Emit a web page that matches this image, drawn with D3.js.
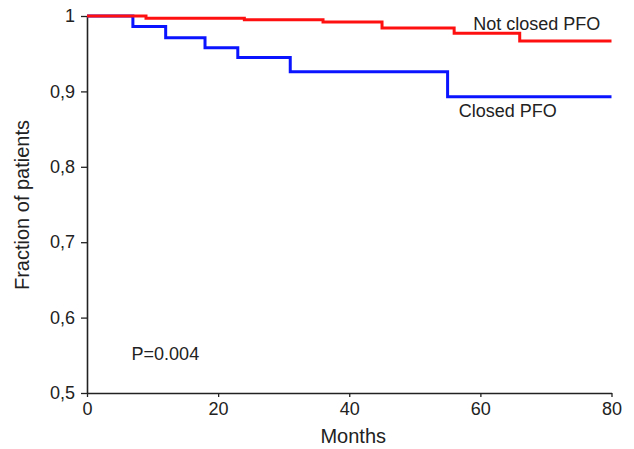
<!DOCTYPE html>
<html>
<head>
<meta charset="utf-8">
<script src="https://cdn.jsdelivr.net/npm/d3@7"></script>
<style>
  html, body { margin: 0; padding: 0; background: #fff; }
  svg { display: block; font-family: "Liberation Sans", Arial, Helvetica, sans-serif; }
</style>
</head>
<body>
<svg id="chart"></svg>
<script>
// Kaplan-Meier steps (months, fraction)
const notClosedMonths = [0, 9, 24, 36, 45, 56, 66, 80];
const notClosedValues = [1, 0.997, 0.995, 0.992, 0.984, 0.977, 0.967, 0.967];
const closedMonths = [0, 7, 12, 18, 23, 31, 55, 80];
const closedValues = [1, 0.986, 0.971, 0.958, 0.945, 0.926, 0.893, 0.893];

const xTicks = [0, 20, 40, 60, 80];
const yTicks = [0.5, 0.6, 0.7, 0.8, 0.9, 1];
const yTickLabels = ['0,5', '0,6', '0,7', '0,8', '0,9', '1'];

// text annotations: [label, month, fraction at baseline]
const labels = [
  ['Not closed PFO', 58.9, 0.982],
  ['Closed PFO', 56.7, 0.866],
  ['P=0.004', 6.8, 0.544]
];

const width = 634;
const height = 449;
const margin = { top: 16, right: 22.5, bottom: 56, left: 87 };

const svg = d3.select('#chart')
  .attr('width', width)
  .attr('height', height);

const x = d3.scaleLinear()
  .domain([0, 80])
  .range([margin.left, width - margin.right]);

const y = d3.scaleLinear()
  .domain([0.5, 1])
  .range([height - margin.bottom, margin.top]);

const xAxis = g => g
  .attr('transform', `translate(0,${height - margin.bottom})`)
  .call(d3.axisBottom(x).tickValues(xTicks).tickSize(4).tickPadding(5.5).tickSizeOuter(0))
  .call(g => g.selectAll('.tick line').attr('stroke', '#222').attr('stroke-width', 1.3))
  .call(g => g.select('.domain').attr('stroke', '#222').attr('stroke-width', 1.6))
  .call(g => g.selectAll('.tick text').attr('fill', '#222').attr('font-size', 18).attr('font-family', null));

const yAxis = g => g
  .attr('transform', `translate(${margin.left},0)`)
  .call(d3.axisLeft(y).tickValues(yTicks).tickFormat((d, i) => yTickLabels[i]).tickSize(6).tickPadding(6).tickSizeOuter(0))
  .call(g => g.selectAll('.tick line').attr('stroke', '#222').attr('stroke-width', 1.3))
  .call(g => g.select('.domain').attr('stroke', '#222').attr('stroke-width', 1.6))
  .call(g => g.selectAll('.tick text').attr('fill', '#222').attr('font-size', 18).attr('font-family', null));

svg.append('g').call(xAxis);
svg.append('g').call(yAxis);

const line = d3.line()
  .x(d => x(d[0]))
  .y(d => y(d[1]))
  .curve(d3.curveStepAfter);

svg.append('path')
  .datum(d3.zip(closedMonths, closedValues))
  .attr('fill', 'none')
  .attr('stroke', '#0a14ff')
  .attr('stroke-width', 3)
  .attr('d', line);

svg.append('path')
  .datum(d3.zip(notClosedMonths, notClosedValues))
  .attr('fill', 'none')
  .attr('stroke', '#ff1010')
  .attr('stroke-width', 3)
  .attr('d', line);

svg.selectAll('.note')
  .data(labels)
  .join('text')
  .attr('class', 'note')
  .attr('x', d => x(d[1]))
  .attr('y', d => y(d[2]))
  .attr('font-size', 18)
  .attr('fill', '#222')
  .text(d => d[0]);

svg.append('text')
  .attr('x', (margin.left + width - margin.right) / 2 + 4)
  .attr('y', 443)
  .attr('text-anchor', 'middle')
  .attr('font-size', 20)
  .attr('fill', '#222')
  .text('Months');

svg.append('text')
  .attr('transform', `translate(29,${205}) rotate(-90)`)
  .attr('text-anchor', 'middle')
  .attr('font-size', 20)
  .attr('fill', '#222')
  .text('Fraction of patients');
</script>
</body>
</html>
